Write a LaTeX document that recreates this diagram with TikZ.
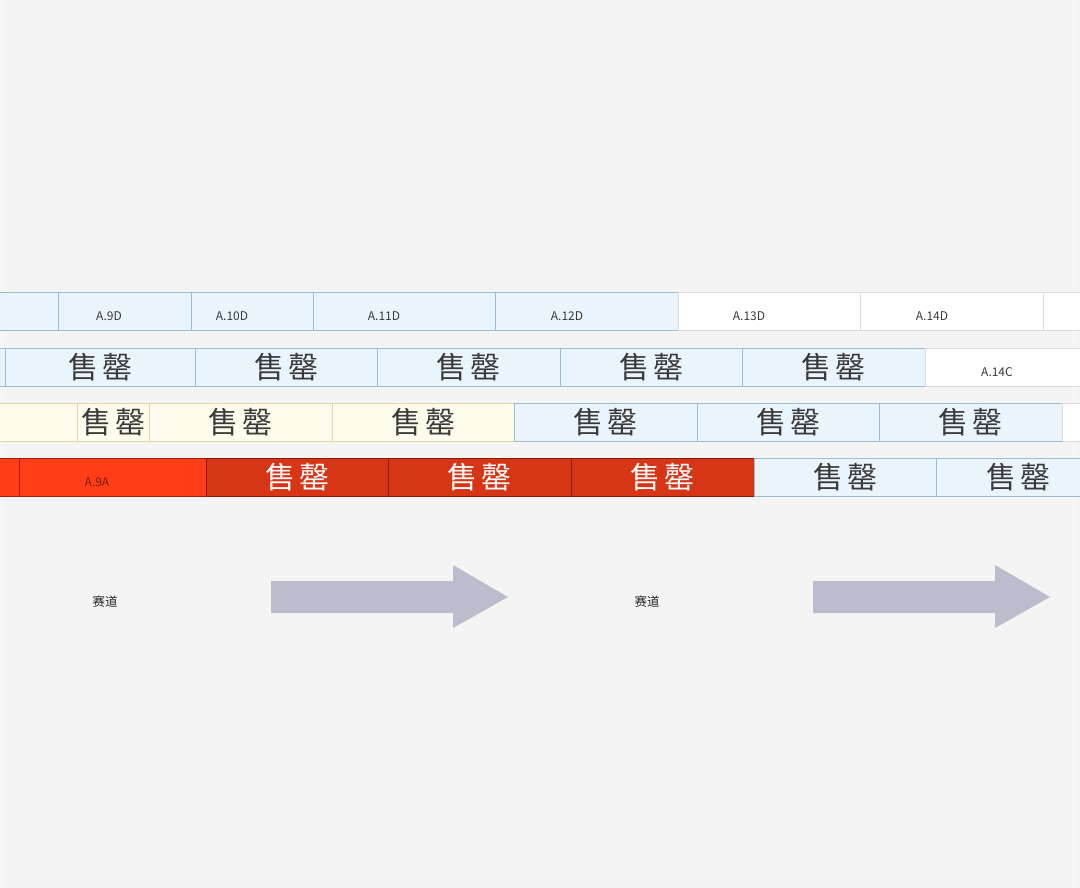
\documentclass[tikz,border=0pt]{standalone}
\usepackage{fontspec}
\setmainfont{Noto Sans CJK SC}
\definecolor{bg}{HTML}{F4F4F4}
\definecolor{bluefill}{HTML}{EAF4FD}
\definecolor{blueline}{HTML}{9DBBD1}
\definecolor{whiteline}{HTML}{DCDCDC}
\definecolor{creamfill}{HTML}{FEFAEC}
\definecolor{creamline}{HTML}{E3D6A6}
\definecolor{brightred}{HTML}{FF3D17}
\definecolor{brightredline}{HTML}{A81C0C}
\definecolor{redtext}{HTML}{7A2010}
\definecolor{darkred}{HTML}{D63516}
\definecolor{darkredline}{HTML}{861A0C}
\definecolor{arrowgray}{HTML}{BBBDCD}
\definecolor{txt}{HTML}{3A3A3A}
\definecolor{edgeline}{HTML}{FBFBFB}
\tikzset{
  cellbase/.style={rectangle, inner sep=0pt, line width=0.9pt, font=\fontsize{30}{30}\selectfont},
  bluecell/.style={cellbase, fill=bluefill, draw=blueline, text=txt},
  whitecell/.style={cellbase, fill=white, draw=whiteline, text=txt},
  creamcell/.style={cellbase, fill=creamfill, draw=creamline, text=txt},
  redcell/.style={cellbase, fill=brightred, draw=brightredline, text=txt},
  darkcell/.style={cellbase, fill=darkred, draw=darkredline, text=white},
  celllabel/.style={inner sep=0pt, font=\fontsize{12}{12}\selectfont, text=txt},
  redlabel/.style={celllabel, text=redtext},
  lanelabel/.style={inner sep=0pt, font=\fontsize{12.5}{12.5}\selectfont, text=black!85},
  bigarrow/.style={fill=arrowgray, draw=none}
}
\newcommand\cellbox[6]{% name, style, x1, x2, ytop, text
  \pgfmathsetmacro\cellw{#4-(#3)}%
  \node[#2, anchor=north west, minimum width=\cellw pt, minimum height=38pt] (#1) at (#3,#5) {#6};}
\newcommand\sold{\raisebox{-1.5pt}{售\hspace{4pt}罄}}
\begin{document}
\begin{tikzpicture}[x=1pt,y=-1pt]
\useasboundingbox (0,0) rectangle (1080,888);
\fill[bg] (0,0) rectangle (1080,888);
\draw[edgeline, line width=1pt] (1.5,0) -- (1.5,888);
\draw[edgeline, line width=1pt] (1073.5,0) -- (1073.5,888);
\begin{scope}
\clip (0,0) rectangle (1080,888);
% row 1
\cellbox{r1c0}{bluecell}{-20}{58}{292}{}
\cellbox{r1c1}{bluecell}{58}{191}{292}{}
\cellbox{r1c2}{bluecell}{191}{313}{292}{}
\cellbox{r1c3}{bluecell}{313}{495}{292}{}
\cellbox{r1c4}{bluecell}{495}{678}{292}{}
\cellbox{r1c5}{whitecell}{678}{860}{292}{}
\cellbox{r1c6}{whitecell}{860}{1043}{292}{}
\cellbox{r1c7}{whitecell}{1043}{1100}{292}{}
\node[celllabel] (l9d) at (109,316) {A.9D};
\node[celllabel] (l10d) at (232,316) {A.10D};
\node[celllabel] (l11d) at (384,316) {A.11D};
\node[celllabel] (l12d) at (567,316) {A.12D};
\node[celllabel] (l13d) at (749,316) {A.13D};
\node[celllabel] (l14d) at (932,316) {A.14D};
% row 2
\cellbox{r2c0}{bluecell}{-20}{5}{348}{}
\cellbox{r2c1}{bluecell}{5}{195}{348}{\sold}
\cellbox{r2c2}{bluecell}{195}{377}{348}{\sold}
\cellbox{r2c3}{bluecell}{377}{560}{348}{\sold}
\cellbox{r2c4}{bluecell}{560}{742}{348}{\sold}
\cellbox{r2c5}{bluecell}{742}{925}{348}{\sold}
\cellbox{r2c6}{whitecell}{925}{1100}{348}{}
\node[celllabel] (l14c) at (997,372) {A.14C};
% row 3
\cellbox{r3c0}{creamcell}{-20}{77}{403}{}
\cellbox{r3c1}{creamcell}{77}{149}{403}{\sold}
\cellbox{r3c2}{creamcell}{149}{332}{403}{\sold}
\cellbox{r3c3}{creamcell}{332}{514}{403}{\sold}
\cellbox{r3c4}{bluecell}{514}{697}{403}{\sold}
\cellbox{r3c5}{bluecell}{697}{879}{403}{\sold}
\cellbox{r3c6}{bluecell}{879}{1062}{403}{\sold}
\cellbox{r3c7}{whitecell}{1062}{1100}{403}{}
% row 4
\cellbox{r4c0}{redcell}{-20}{19}{458}{}
\cellbox{r4c1}{redcell}{19}{206}{458}{}
\cellbox{r4c2}{darkcell}{206}{388}{458}{\sold}
\cellbox{r4c3}{darkcell}{388}{571}{458}{\sold}
\cellbox{r4c4}{darkcell}{571}{754}{458}{\sold}
\cellbox{r4c5}{bluecell}{754}{936}{458}{\sold}
\cellbox{r4c6}{bluecell}{936}{1100}{458}{\sold}
\node[redlabel] (l9a) at (97,482) {A.9A};
\end{scope}
% lanes
\node[lanelabel] (lane1) at (105,602) {赛道};
\node[lanelabel] (lane2) at (647,602) {赛道};
\fill[bigarrow] (271,581) -- (453,581) -- (453,565) -- (508,597) -- (453,628) -- (453,613) -- (271,613) -- cycle;
\fill[bigarrow] (813,581) -- (995,581) -- (995,565) -- (1050,597) -- (995,628) -- (995,613) -- (813,613) -- cycle;
\end{tikzpicture}
\end{document}
